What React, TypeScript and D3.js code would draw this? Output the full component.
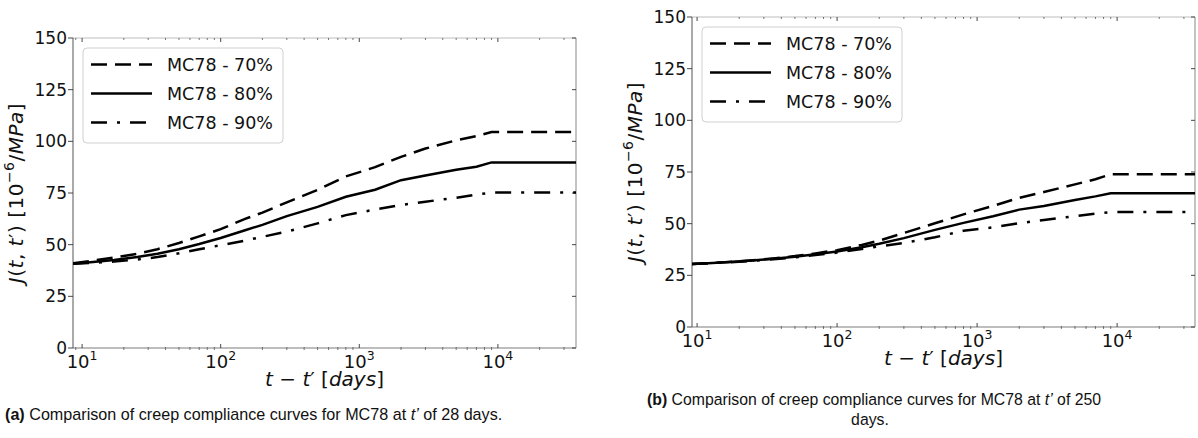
import React from "react";
import * as d3 from "d3";

// t - t' [days] sample points and compliance values
const daysA = [8.6, 12, 17, 25, 35, 50, 70, 100, 150, 200, 300, 500, 800, 1300, 2000, 3000, 5000, 7000, 9000, 36600];
const mc70A = [41.0, 42.3, 43.8, 45.6, 47.8, 50.8, 54.0, 57.5, 62.5, 65.5, 70.5, 76.5, 83.0, 87.5, 92.5, 96.5, 100.5, 102.5, 104.5, 104.5];
const mc80A = [40.8, 41.6, 42.6, 44.0, 45.6, 47.8, 50.3, 53.2, 57.0, 59.6, 63.8, 68.3, 73.2, 76.6, 81.2, 83.5, 86.3, 87.7, 89.8, 89.8];
const mc90A = [40.8, 41.2, 41.8, 42.8, 44.0, 45.8, 47.8, 49.7, 52.0, 53.8, 56.3, 60.3, 64.3, 67.0, 69.2, 70.8, 72.7, 74.2, 75.2, 75.2];

const daysB = [9.2, 12, 17, 25, 35, 50, 70, 100, 150, 200, 300, 500, 800, 1300, 2000, 3000, 5000, 7000, 9000, 36000];
const mc70B = [30.5, 30.9, 31.5, 32.3, 33.2, 34.3, 35.6, 37.2, 39.7, 41.8, 45.5, 50.2, 54.5, 58.6, 62.5, 65.3, 69.0, 71.5, 73.9, 73.9];
const mc80B = [30.5, 30.9, 31.4, 32.2, 33.0, 34.0, 35.2, 36.5, 38.6, 40.3, 43.0, 47.0, 50.4, 53.6, 56.8, 58.6, 61.5, 63.2, 64.7, 64.7];
const mc90B = [30.5, 30.8, 31.3, 32.0, 32.8, 33.7, 34.8, 36.0, 37.7, 39.0, 40.7, 43.4, 46.6, 48.2, 50.2, 51.8, 53.6, 54.8, 55.6, 55.6];

const seriesNames = ["MC78 - 70%", "MC78 - 80%", "MC78 - 90%"];
const yTicks = [0, 25, 50, 75, 100, 125, 150];
const xMajorExp = [1, 2, 3, 4];

const dashes = ["16,8", null, "16,10,3,10"];
const mathFont = "DejaVu Sans";

type Frame = { x0: number; x1: number; y0: number; y1: number };

const Panel = ({ frame, xDomain, days, values }: { frame: Frame; xDomain: number[]; days: number[]; values: number[][] }) => {
  const x = d3.scaleLog().domain(xDomain).range([frame.x0, frame.x1]);
  const y = d3.scaleLinear().domain([0, 150]).range([frame.y1, frame.y0]);
  const line = d3
    .line<number>()
    .x((_, i) => x(days[i]))
    .y((d) => y(d));

  const minor: number[] = [];
  for (let e = 0; e <= 4; e++) {
    for (let m = 2; m <= 9; m++) {
      const v = m * Math.pow(10, e);
      if (v > xDomain[0] && v < xDomain[1]) minor.push(v);
    }
  }

  const cx = (frame.x0 + frame.x1) / 2;
  const cy = (frame.y0 + frame.y1) / 2;
  const lx = frame.x0 + 10;
  const ly = frame.y0 + 10;
  const rows = [26.5, 55.5, 84.5];

  return (
    <g fontFamily={mathFont}>
      <defs>
        <clipPath id={`clip${frame.x0}`}>
          <rect x={frame.x0} y={frame.y0} width={frame.x1 - frame.x0} height={frame.y1 - frame.y0} />
        </clipPath>
      </defs>
      {/* spines */}
      <line x1={frame.x0} x2={frame.x1} y1={frame.y0} y2={frame.y0} stroke="#bdbdbd" strokeWidth={1.2} />
      <line x1={frame.x1} x2={frame.x1} y1={frame.y0} y2={frame.y1} stroke="#bdbdbd" strokeWidth={1.8} />
      <line x1={frame.x0} x2={frame.x1} y1={frame.y1} y2={frame.y1} stroke="#bdbdbd" strokeWidth={1.8} />
      <line x1={frame.x0} x2={frame.x0} y1={frame.y0} y2={frame.y1} stroke="#555" strokeWidth={1} />

      {/* y ticks */}
      {yTicks.map((t) => (
        <g key={t}>
          <line x1={frame.x0 - 5} x2={frame.x0} y1={y(t)} y2={y(t)} stroke="#333" strokeWidth={0.9} />
          <line x1={frame.x1 - 4} x2={frame.x1} y1={y(t)} y2={y(t)} stroke="#333" strokeWidth={0.9} />
          <text x={frame.x0 - 6} y={y(t) + 6} textAnchor="end" fontSize={17} fill="#111">
            {t}
          </text>
        </g>
      ))}

      {/* x ticks */}
      {minor.map((v) => (
        <g key={v}>
          <line x1={x(v)} x2={x(v)} y1={frame.y1 - 1} y2={frame.y1 + 2} stroke="#555" strokeWidth={0.8} />
          <line x1={x(v)} x2={x(v)} y1={frame.y0} y2={frame.y0 + 2} stroke="#555" strokeWidth={0.8} />
        </g>
      ))}
      {xMajorExp.map((e) => {
        const px = x(Math.pow(10, e));
        return (
          <g key={e}>
            <line x1={px} x2={px} y1={frame.y1 - 4} y2={frame.y1} stroke="#333" strokeWidth={0.9} />
            <line x1={px} x2={px} y1={frame.y0} y2={frame.y0 + 4} stroke="#333" strokeWidth={0.9} />
            <text x={px} y={frame.y1 + 20} textAnchor="middle" fontSize={18} fill="#111">
              10
              <tspan fontSize={12.5} dy={-8}>
                {e}
              </tspan>
            </text>
          </g>
        );
      })}

      {/* curves */}
      <g clipPath={`url(#clip${frame.x0})`}>
        {values.map((vals, i) => (
          <path
            key={i}
            d={line(vals) || ""}
            fill="none"
            stroke="#000"
            strokeWidth={2.5}
            strokeDasharray={dashes[i] || undefined}
          />
        ))}
      </g>

      {/* legend */}
      <rect x={lx} y={ly} width={200} height={95} rx={4} fill="#fff" fillOpacity={0.8} stroke="#d0d0d0" strokeWidth={1} />
      {seriesNames.map((n, i) => (
        <g key={n}>
          <line
            x1={lx + 8}
            x2={lx + 69}
            y1={frame.y0 + rows[i]}
            y2={frame.y0 + rows[i]}
            stroke="#000"
            strokeWidth={2.5}
            strokeDasharray={dashes[i] || undefined}
          />
          <text x={lx + 84} y={frame.y0 + rows[i] + 6.5} fontSize={17.5} fill="#111">
            {n}
          </text>
        </g>
      ))}

      {/* axis labels */}
      <text x={cx} y={frame.y1 + 38} textAnchor="middle" fontSize={20} fill="#111">
        <tspan fontStyle="italic">t</tspan> − <tspan fontStyle="italic">t</tspan>′ [<tspan fontStyle="italic">days</tspan>]
      </text>
      <text
        transform={`translate(${frame.x0 - 50},${cy}) rotate(-90)`}
        textAnchor="middle"
        fontSize={20}
        letterSpacing={0.5}
        fill="#111"
      >
        <tspan fontStyle="italic">J</tspan>(<tspan fontStyle="italic">t</tspan>, <tspan fontStyle="italic">t</tspan>′) [10
        <tspan fontSize={14} dy={-9}>
          −6
        </tspan>
        <tspan dy={9}>/</tspan>
        <tspan fontStyle="italic">MPa</tspan>]
      </text>
    </g>
  );
};

const App = () => {
  return (
    <svg width={1198} height={438} style={{ position: "absolute", left: 0, top: 0, background: "#fff" }}>
      <Panel frame={{ x0: 73, x1: 576, y0: 38, y1: 348 }} xDomain={[8.6, 36600]} days={daysA} values={[mc70A, mc80A, mc90A]} />
      <Panel frame={{ x0: 692, x1: 1195, y0: 17, y1: 327 }} xDomain={[9.2, 36000]} days={daysB} values={[mc70B, mc80B, mc90B]} />

      {/* captions: Arial-like, slightly condensed */}
      <g fontFamily="Liberation Sans, Arial, sans-serif" fontSize={17} fill="#111">
        <text transform="translate(5,420) scale(0.95,1)">
          <tspan fontWeight="bold">(a)</tspan> Comparison of creep compliance curves for MC78 at <tspan fontStyle="italic">t’</tspan> of 28 days.
        </text>
        <text transform="translate(647,405) scale(0.93,1)">
          <tspan fontWeight="bold">(b)</tspan> Comparison of creep compliance curves for MC78 at <tspan fontStyle="italic">t’</tspan> of 250
        </text>
        <text transform="translate(870,425) scale(0.93,1)" textAnchor="middle">
          days.
        </text>
      </g>
    </svg>
  );
};

export default App;
